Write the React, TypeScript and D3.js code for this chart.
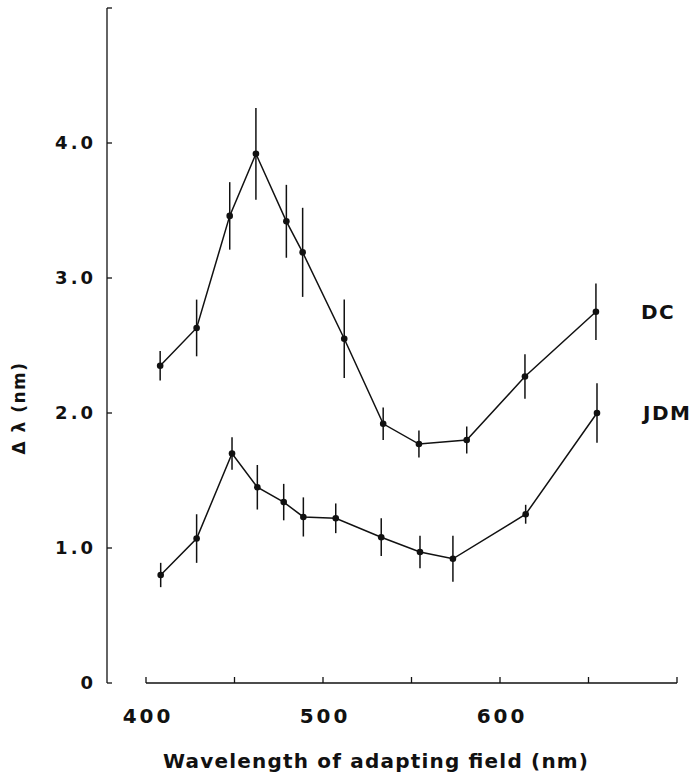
import React from 'react'
import * as d3 from 'd3'

// wavelengths (nm) and delta-lambda (nm) with half-length of error bars
const dcWave = [408, 428.6, 447.3, 462.1, 479.3, 488.5, 512, 534, 554.2, 581.2, 614.1, 654.2]
const dcVal = [2.35, 2.63, 3.46, 3.92, 3.42, 3.19, 2.55, 1.92, 1.77, 1.8, 2.27, 2.75]
const dcErr = [0.11, 0.21, 0.25, 0.34, 0.27, 0.33, 0.29, 0.12, 0.1, 0.1, 0.165, 0.21]

const jdmWave = [408.3, 428.6, 448.6, 462.9, 477.8, 488.9, 507.2, 532.9, 554.8, 573.4, 614.5, 654.8]
const jdmVal = [0.8, 1.07, 1.7, 1.45, 1.34, 1.23, 1.22, 1.08, 0.97, 0.92, 1.25, 2.0]
const jdmErr = [0.09, 0.18, 0.12, 0.165, 0.135, 0.145, 0.11, 0.14, 0.12, 0.17, 0.07, 0.22]

const xTicks = [400, 450, 500, 550, 600, 650, 700]
const xLabels = [400, 500, 600]
const yTicks = [0, 1, 2, 3, 4, 5]
const yLabels = ['0', '1.0', '2.0', '3.0', '4.0']

const seriesNames = ['DC', 'JDM']

const font = '"DejaVu Sans", Verdana, sans-serif'
const ink = '#111'

export default function App () {
    const width = 695
    const height = 778

    const x = d3.scaleLinear().domain([400, 700]).range([146, 677])
    const y = d3.scaleLinear().domain([0, 5]).range([683, 8])
    const yAxisX = 107

    const line = d3.line<number[]>()
        .x(d => x(d[0]))
        .y(d => y(d[1]))

    const series = [
        { name: seriesNames[0], w: dcWave, v: dcVal, e: dcErr },
        { name: seriesNames[1], w: jdmWave, v: jdmVal, e: jdmErr }
    ]

    return (
        <svg width={width} height={height} style={{ position: 'absolute', left: 0, top: 0, background: '#fff' }}>
            {/* y axis */}
            <line x1={yAxisX} x2={yAxisX} y1={y(5)} y2={y(0)} stroke={ink} strokeWidth={1.3} />
            {yTicks.map(t => (
                <line key={'yt' + t} x1={yAxisX} x2={yAxisX + 5} y1={y(t)} y2={y(t)} stroke={ink} strokeWidth={1.3} />
            ))}
            {yLabels.map((l, i) => (
                <text key={'yl' + l} x={yAxisX - 11} y={y(i)} dy="0.36em" textAnchor="end"
                    fontFamily={font} fontWeight="bold" fontSize={18} letterSpacing={3} fill={ink}>{l}</text>
            ))}
            <text transform={`translate(25, ${408}) rotate(-90)`} textAnchor="middle"
                fontFamily={font} fontWeight="bold" fontSize={17} letterSpacing={1.5} fill={ink}>Δ λ  (nm)</text>

            {/* x axis */}
            <line x1={x(400)} x2={x(700)} y1={y(0)} y2={y(0)} stroke={ink} strokeWidth={1.3} />
            {xTicks.map(t => (
                <line key={'xt' + t} x1={x(t)} x2={x(t)} y1={y(0)} y2={y(0) - 6} stroke={ink} strokeWidth={1.3} />
            ))}
            {xLabels.map(t => (
                <text key={'xl' + t} x={x(t) + 2} y={723} textAnchor="middle"
                    fontFamily={font} fontWeight="bold" fontSize={20} letterSpacing={3} fill={ink}>{t}</text>
            ))}
            <text x={163} y={768} textLength={425} lengthAdjust="spacing"
                fontFamily={font} fontWeight="bold" fontSize={20} fill={ink}>Wavelength of adapting field (nm)</text>

            {/* data */}
            {series.map(s => {
                const pts = s.w.map((w, i) => [w, s.v[i]])
                return (
                    <g key={s.name}>
                        <path d={line(pts) || ''} fill="none" stroke={ink} strokeWidth={1.5} />
                        {pts.map((p, i) => (
                            <line key={'e' + i} x1={x(p[0])} x2={x(p[0])} y1={y(p[1] + s.e[i])} y2={y(p[1] - s.e[i])}
                                stroke={ink} strokeWidth={1.5} />
                        ))}
                        {pts.map((p, i) => (
                            <circle key={'c' + i} cx={x(p[0])} cy={y(p[1])} r={3.3} fill={ink} />
                        ))}
                    </g>
                )
            })}

            {/* series labels */}
            <text x={641} y={y(dcVal[dcVal.length - 1])} dy="0.36em" fontFamily={font} fontWeight="bold"
                fontSize={20} letterSpacing={1.5} fill={ink}>{seriesNames[0]}</text>
            <text x={643} y={y(jdmVal[jdmVal.length - 1])} dy="0.36em" fontFamily={font} fontWeight="bold"
                fontSize={20} letterSpacing={1.5} fill={ink}>{seriesNames[1]}</text>
        </svg>
    )
}
